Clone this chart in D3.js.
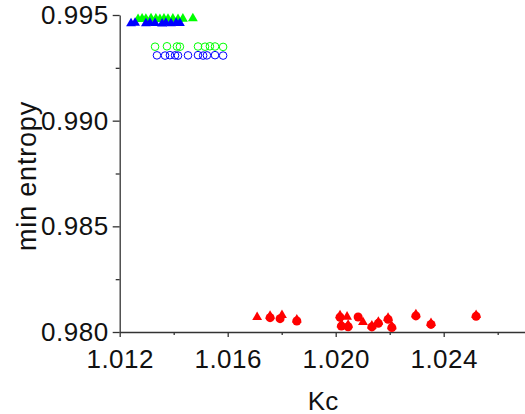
<!DOCTYPE html>
<html>
<head>
<meta charset="utf-8">
<script src="https://d3js.org/d3.v7.min.js"></script>
<style>
  body { margin: 0; background: #fff; }
  svg { display: block; }
  .tick text { font-family: "Liberation Sans", Arial, sans-serif; font-size: 26px; fill: #111; letter-spacing: 0.5px; }
  .axis path, .axis line { stroke: #333; stroke-width: 1.3; }
  .axis-label { font-family: "Liberation Sans", Arial, sans-serif; fill: #111; }
</style>
</head>
<body>
<svg width="525" height="414"></svg>
<script>
// tick labels
var xTicks = [1.012, 1.016, 1.020, 1.024];
var xMinor = [1.014, 1.018, 1.022, 1.026];
var yTicks = [0.980, 0.985, 0.990, 0.995];
var yMinor = [0.9825, 0.9875, 0.9925];

// green filled triangles
var greenTriKc  = [1.01268, 1.01283, 1.01297, 1.01316, 1.01334, 1.01349, 1.01364, 1.01379, 1.01397, 1.01416, 1.01434, 1.01471];
var greenTriEnt = [0.99480, 0.99483, 0.99481, 0.99484, 0.99482, 0.99480, 0.99483, 0.99481, 0.99482, 0.99480, 0.99482, 0.99484];
// blue filled triangles
var blueTriKc  = [1.01242, 1.01257, 1.01297, 1.01312, 1.01331, 1.01357, 1.01371, 1.01390, 1.01409, 1.01423];
var blueTriEnt = [0.99460, 0.99462, 0.99460, 0.99463, 0.99461, 0.99459, 0.99462, 0.99460, 0.99462, 0.99461];
// green open circles
var greenCirKc  = [1.01331, 1.01375, 1.01412, 1.01423, 1.01490, 1.01516, 1.01534, 1.01553, 1.01583];
var greenCirEnt = [0.99350, 0.99352, 0.99351, 0.99350, 0.99351, 0.99350, 0.99352, 0.99351, 0.99349];
// blue open circles
var blueCirKc  = [1.01338, 1.01368, 1.01386, 1.01405, 1.01416, 1.01453, 1.01490, 1.01509, 1.01523, 1.01553, 1.01583];
var blueCirEnt = [0.99309, 0.99308, 0.99310, 0.99309, 0.99308, 0.99309, 0.99310, 0.99308, 0.99309, 0.99310, 0.99308];
// red filled triangles
var redTriKc  = [1.01709, 1.01757, 1.01801, 1.01856, 1.02016, 1.02042, 1.02021, 1.02046, 1.02101, 1.02134, 1.02158, 1.02194, 1.02208, 1.02297, 1.02353, 1.02520];
var redTriEnt = [0.98070, 0.98076, 0.98080, 0.98058, 0.98078, 0.98072, 0.98036, 0.98033, 0.98046, 0.98030, 0.98048, 0.98066, 0.98027, 0.98083, 0.98042, 0.98080];
// red filled circles
var redCirKc  = [1.01757, 1.01794, 1.01856, 1.02016, 1.02021, 1.02046, 1.02083, 1.02134, 1.02158, 1.02194, 1.02208, 1.02297, 1.02353, 1.02520];
var redCirEnt = [0.98068, 0.98063, 0.98052, 0.98070, 0.98028, 0.98025, 0.98071, 0.98024, 0.98041, 0.98060, 0.98021, 0.98076, 0.98036, 0.98074];

var svg = d3.select('svg');

var xScale = d3.scaleLinear().domain([1.012, 1.027]).range([119.7, 524.7]);
var yScale = d3.scaleLinear().domain([0.980, 0.995]).range([332, 15]);

function zip(xs, ys) {
    return xs.map(function(x, i) { return {kc: x, ent: ys[i]}; });
}

// minor ticks first, then major axes on top
svg.append('g').attr('class', 'axis')
    .attr('transform', 'translate(0,' + yScale(0.980) + ')')
    .call(d3.axisBottom(xScale).tickValues(xMinor).tickSize(3).tickFormat(''))
    .select('.domain').remove();
svg.append('g').attr('class', 'axis')
    .attr('transform', 'translate(' + xScale(1.012) + ',0)')
    .call(d3.axisLeft(yScale).tickValues(yMinor).tickSize(4).tickFormat(''))
    .select('.domain').remove();

var xAxisG = svg.append('g').attr('class', 'axis')
    .attr('transform', 'translate(0,' + yScale(0.980) + ')')
    .call(d3.axisBottom(xScale).tickValues(xTicks).tickSize(5).tickSizeOuter(0).tickFormat(d3.format('.3f')));
xAxisG.selectAll('.tick text').attr('y', 36).attr('dy', 0);

var yAxisG = svg.append('g').attr('class', 'axis')
    .attr('transform', 'translate(' + xScale(1.012) + ',0)')
    .call(d3.axisLeft(yScale).tickValues(yTicks).tickSize(7).tickSizeOuter(0).tickFormat(d3.format('.3f')));
yAxisG.selectAll('.tick text').attr('x', -11).attr('dy', '0.33em');

// axis labels
svg.append('text').attr('class', 'axis-label')
    .attr('text-anchor', 'middle')
    .attr('font-size', 26)
    .attr('x', 323).attr('y', 410)
    .text('Kc');

svg.append('text').attr('class', 'axis-label')
    .attr('text-anchor', 'middle')
    .attr('font-size', 27)
    .style('letter-spacing', '0.8px')
    .attr('transform', 'translate(' + [36, 176] + ')rotate(-90)')
    .text('min entropy');

var tri = d3.symbol().type(d3.symbolTriangle).size(42);

function drawTriangles(data, color) {
    svg.append('g').selectAll('path')
        .data(data)
        .enter()
        .append('path')
        .attr('d', tri)
        .attr('transform', function(d) { return 'translate(' + [xScale(d.kc), yScale(d.ent)] + ')'; })
        .style('fill', color);
}

function drawCircles(data, color, filled) {
    svg.append('g').selectAll('circle')
        .data(data)
        .enter()
        .append('circle')
        .attr('cx', function(d) { return xScale(d.kc); })
        .attr('cy', function(d) { return yScale(d.ent); })
        .attr('r', filled ? 4.5 : 3.8)
        .style('fill', filled ? color : 'none')
        .style('stroke', filled ? 'none' : color)
        .style('stroke-width', 1);
}

drawCircles(zip(greenCirKc, greenCirEnt), '#00ff00', false);
drawCircles(zip(blueCirKc, blueCirEnt), '#0000ff', false);
drawTriangles(zip(greenTriKc, greenTriEnt), '#00ff00');
drawTriangles(zip(blueTriKc, blueTriEnt), '#0000ff');
drawCircles(zip(redCirKc, redCirEnt), '#ff0000', true);
drawTriangles(zip(redTriKc, redTriEnt), '#ff0000');
</script>
</body>
</html>
